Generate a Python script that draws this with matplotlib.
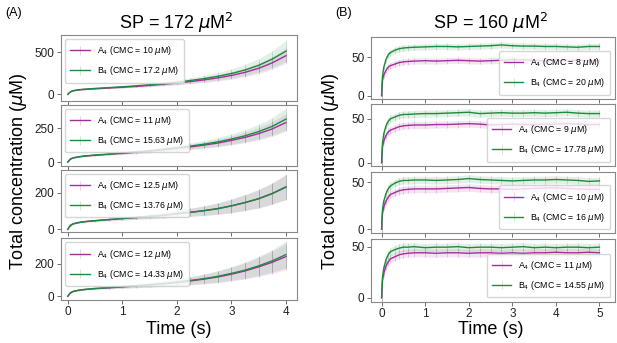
import matplotlib
matplotlib.use("Agg")
import matplotlib.pyplot as plt
from matplotlib.colors import to_rgba
import numpy as np

plt.rcParams['font.family'] = ['Liberation Sans', 'DejaVu Sans']

# ---- panel (A): SP = 172 uM^2, time 0..4 s ----
time_a = [0, 0.05, 0.1, 0.2, 0.3, 0.5, 0.75, 1.0, 1.25, 1.5, 1.75, 2.0,
          2.25, 2.5, 2.75, 3.0, 3.25, 3.5, 3.75, 4.0]

a1_A = [0, 30, 42, 52, 58, 66, 75, 84, 94, 106, 119, 134, 152, 172, 196, 225, 262, 310, 375, 460]
a1_B = [0, 31, 44, 55, 61, 70, 80, 90, 101, 114, 128, 145, 165, 188, 215, 248, 290, 345, 420, 515]
a1_Aerr = [0, 2, 3, 4, 5, 6, 8, 10, 12, 15, 18, 22, 26, 31, 37, 44, 52, 62, 75, 90]
a1_Berr = [0, 2, 3, 4, 5, 7, 9, 12, 15, 18, 22, 27, 32, 38, 46, 55, 66, 80, 100, 125]

a2_A = [0, 22, 30, 38, 43, 50, 57, 64, 72, 80, 90, 101, 112, 125, 140, 160, 182, 210, 245, 292]
a2_B = [0, 23, 31, 39, 45, 52, 59, 67, 75, 84, 95, 106, 118, 132, 149, 170, 194, 225, 264, 317]
a2_Aerr = [0, 2, 3, 4, 4, 5, 6, 8, 10, 12, 14, 17, 20, 24, 28, 33, 39, 46, 55, 65]
a2_Berr = [0, 2, 3, 4, 4, 5, 7, 9, 11, 13, 16, 19, 23, 27, 32, 38, 45, 54, 65, 80]

a3_A = [0, 22, 30, 37, 41, 47, 53, 58, 64, 70, 76, 84, 92, 101, 112, 127, 145, 166, 194, 229]
a3_B = [0, 22, 30, 37, 42, 47, 53, 59, 64, 71, 77, 85, 93, 102, 113, 128, 146, 167, 195, 231]
a3_Aerr = [0, 2, 3, 3, 4, 5, 6, 8, 10, 12, 15, 18, 22, 26, 31, 37, 43, 50, 58, 68]
a3_Berr = [0, 2, 3, 3, 4, 5, 6, 8, 10, 12, 15, 18, 22, 26, 31, 37, 43, 50, 58, 68]

a4_A = [0, 22, 30, 37, 41, 47, 52, 57, 63, 69, 76, 84, 94, 105, 118, 135, 155, 180, 208, 243]
a4_B = [0, 22, 30, 37, 42, 48, 53, 59, 65, 71, 78, 87, 97, 108, 122, 140, 160, 186, 217, 255]
a4_Aerr = [0, 2, 3, 3, 4, 5, 7, 9, 11, 13, 16, 20, 24, 29, 35, 42, 50, 59, 69, 80]
a4_Berr = [0, 2, 3, 3, 4, 5, 7, 9, 11, 13, 16, 20, 24, 29, 35, 42, 50, 59, 69, 82]

cmc_a = [("10", "17.2"), ("11", "15.63"), ("12.5", "13.76"), ("12", "14.33")]

# ---- panel (B): SP = 160 uM^2, time 0..5 s ----
time_b = [0, 0.02, 0.05, 0.1, 0.15, 0.2, 0.3, 0.4, 0.5, 0.6, 0.75, 1.0, 1.25, 1.5,
          1.75, 2.0, 2.25, 2.5, 2.75, 3.0, 3.25, 3.5, 3.75, 4.0, 4.25, 4.5, 4.75, 5.0]

b1_A = [0, 20, 27, 33, 37, 39, 41, 43, 44, 44.5, 45, 45.5, 45, 45.5, 46, 45.5, 45,
        45.5, 46, 47, 46.5, 46, 45.5, 46, 45.5, 46, 45.5, 45.5]
b1_B = [0, 25, 37, 47, 53, 56, 59, 61, 62, 62.5, 63, 63.5, 64, 64, 63.5, 64, 64.5,
        65, 66, 65, 64.5, 64.5, 64, 64, 63.5, 63, 64, 64]

b2_A = [0, 18, 25, 31, 35, 37, 39, 41, 42, 42.5, 43, 43, 43.5, 43.5, 44, 44.5, 44,
        43, 43.5, 44, 43.5, 43.5, 44, 44, 44.5, 44, 43.5, 43.5]
b2_B = [0, 22, 33, 42, 47, 50, 52, 54, 55, 55, 55.5, 56, 56, 56.5, 57, 57.5, 56,
        56.5, 57, 56.5, 56.5, 57, 56.5, 57, 57.5, 56.5, 56, 56]

b3_A = [0, 17, 24, 30, 34, 37, 39, 41, 42, 42.5, 43, 43, 43, 43.5, 44, 44.5, 43.5,
        43, 43, 42.5, 43, 43.5, 44, 44, 43.5, 43, 42.5, 42.5]
b3_B = [0, 21, 30, 38, 43, 46, 49, 51, 52, 52, 52.5, 52.5, 52, 52.5, 53, 54, 53,
        52.5, 52, 51.5, 52, 52.5, 52.5, 53, 52.5, 52, 51, 51.5]

b4_A = [0, 17, 24, 31, 35, 38, 40, 42, 43, 43.5, 44, 44, 43.5, 44, 44, 43.5, 44,
        44, 43.5, 44, 43.5, 44, 44, 44.5, 44, 44, 44.5, 44]
b4_B = [0, 20, 29, 37, 42, 45, 47, 48.5, 49.5, 49.5, 50, 49, 49.5, 49.5, 50, 49,
        49.5, 49.5, 49, 49.5, 50, 49, 49.5, 49, 49.5, 49.5, 49, 49.5]

b_err_A = 4
b_err_B = 4

cmc_b = [("8", "20"), ("9", "17.78"), ("10", "16"), ("11", "14.55")]

col_A = '#a0309a'
col_B = '#1e8a3c'


def draw_pair(ax, t, yA, yB, eA, eB, cmc, loc):
    t = np.array(t)
    for y, e, c, name, cv in [(yA, eA, col_A, 'A', cmc[0]), (yB, eB, col_B, 'B', cmc[1])]:
        y = np.array(y, dtype=float)
        e = np.broadcast_to(np.array(e, dtype=float), y.shape)
        ax.fill_between(t, y - e, y + e, color=c, alpha=0.12, lw=0)
        ax.errorbar(t, y, yerr=e, color=c, ecolor=to_rgba(c, 0.3), elinewidth=0.5,
                    lw=1.0, capsize=0,
                    label=name + r'$_4$ (CMC = ' + cv + r' $\mu$M)')
    leg = ax.legend(loc=loc, fontsize=6.3, frameon=True, handlelength=2.2,
                    borderpad=0.6, labelspacing=0.8)
    leg.get_frame().set_edgecolor('#cccccc')


def style(ax):
    for s in ax.spines.values():
        s.set_color('#888888')
        s.set_linewidth(0.8)
    ax.tick_params(labelsize=8.5, length=3, width=0.6, color='#555555',
                   labelcolor='#222222', pad=1.5)


fig = plt.figure(figsize=(6.17, 3.43), dpi=100)

left_pos = [(0.0984, 0.7055, 0.3825, 0.193), (0.0984, 0.517, 0.3825, 0.178),
            (0.0984, 0.3245, 0.3825, 0.181), (0.0984, 0.1262, 0.3825, 0.180)]
right_pos = [(0.6008, 0.7114, 0.3955, 0.180), (0.6008, 0.516, 0.3955, 0.181),
             (0.6008, 0.3198, 0.3955, 0.1796), (0.6008, 0.1204, 0.3955, 0.1828)]

left_data = [(a1_A, a1_B, a1_Aerr, a1_Berr), (a2_A, a2_B, a2_Aerr, a2_Berr),
             (a3_A, a3_B, a3_Aerr, a3_Berr), (a4_A, a4_B, a4_Aerr, a4_Berr)]
left_ylim = [(-80, 710), (-27, 425), (-13, 325), (-21, 357)]
left_yticks = [[0, 500], [0, 250], [0, 200], [0, 200]]

right_data = [(b1_A, b1_B), (b2_A, b2_B), (b3_A, b3_B), (b4_A, b4_B)]
right_ylim = [(-4.3, 76), (-3.8, 67), (-4.3, 61.3), (-3.9, 57.5)]

for i in range(4):
    ax = fig.add_axes(left_pos[i])
    yA, yB, eA, eB = left_data[i]
    draw_pair(ax, time_a, yA, yB, eA, eB, cmc_a[i], 'upper left')
    ax.set_xlim(-0.13, 4.2)
    ax.set_ylim(*left_ylim[i])
    ax.set_yticks(left_yticks[i])
    ax.set_xticks([0, 1, 2, 3, 4])
    if i < 3:
        ax.set_xticklabels([])
    style(ax)

    ax = fig.add_axes(right_pos[i])
    yA, yB = right_data[i]
    draw_pair(ax, time_b, yA, yB, b_err_A, b_err_B, cmc_b[i], 'lower right')
    ax.set_xlim(-0.25, 5.35)
    ax.set_ylim(*right_ylim[i])
    ax.set_yticks([0, 50])
    ax.set_xticks([0, 1, 2, 3, 4, 5])
    if i < 3:
        ax.set_xticklabels([])
    style(ax)

fig.text(0.285, 0.932, r'SP = 172 $\mu$M$^2$', fontsize=13, ha='center', va='center')
fig.text(0.795, 0.932, r'SP = 160 $\mu$M$^2$', fontsize=13, ha='center', va='center')
fig.text(0.008, 0.962, '(A)', fontsize=9, ha='left', va='center')
fig.text(0.543, 0.962, '(B)', fontsize=9, ha='left', va='center')
fig.text(0.03, 0.5, r'Total concentration ($\mu$M)', fontsize=13, rotation=90,
         ha='center', va='center')
fig.text(0.535, 0.5, r'Total concentration ($\mu$M)', fontsize=13, rotation=90,
         ha='center', va='center')
fig.text(0.29, 0.04, 'Time (s)', fontsize=13, ha='center', va='center')
fig.text(0.795, 0.04, 'Time (s)', fontsize=13, ha='center', va='center')

fig.savefig('out.png', dpi=100)
